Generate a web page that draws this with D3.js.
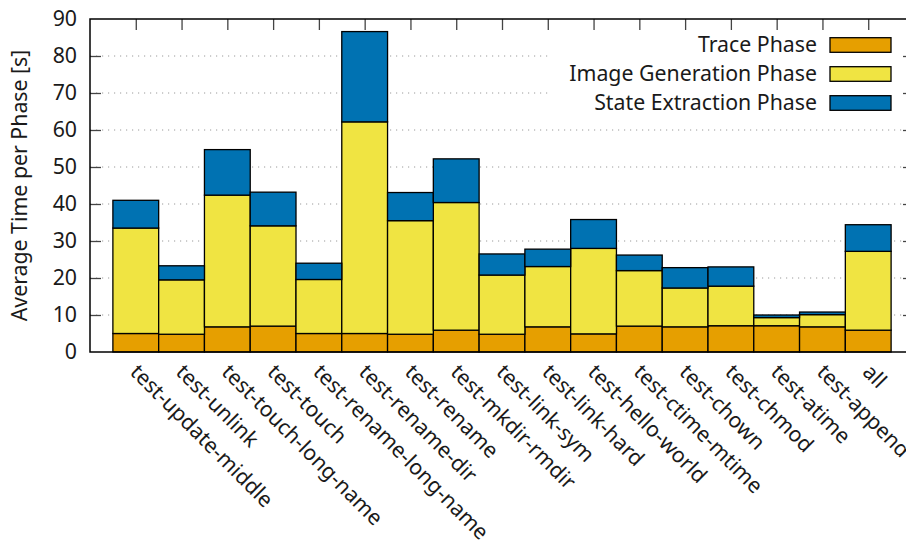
<!DOCTYPE html>
<html>
<head>
<meta charset="utf-8">
<script src="https://cdn.jsdelivr.net/npm/d3@7"></script>
<style>
  body { margin: 0; background: #fff; }
  text { font-family: "Noto Sans", sans-serif; fill: #1a1a1a; }
</style>
</head>
<body>
<div id="chart"></div>
<script>
// test names, left to right
const categories = [
    "test-update-middle", "test-unlink", "test-touch-long-name", "test-touch",
    "test-rename-long-name", "test-rename-dir", "test-rename", "test-mkdir-rmdir",
    "test-link-sym", "test-link-hard", "test-hello-world", "test-ctime-mtime",
    "test-chown", "test-chmod", "test-atime", "test-append", "all"
];
// seconds spent in each phase
const tracePhase = [5.0, 4.8, 6.8, 7.0, 5.0, 5.0, 4.8, 5.9, 4.8, 6.8, 4.9, 7.0, 6.8, 7.1, 7.1, 6.8, 5.9];
const imagePhase = [28.5, 14.7, 35.6, 27.1, 14.6, 57.2, 30.7, 34.5, 16.0, 16.3, 23.1, 15.0, 10.5, 10.7, 2.2, 3.3, 21.3];
const statePhase = [7.5, 3.8, 12.3, 9.1, 4.4, 24.4, 7.6, 11.8, 5.7, 4.7, 7.8, 4.2, 5.5, 5.2, 0.7, 0.7, 7.2];
const yTicks = [0, 10, 20, 30, 40, 50, 60, 70, 80, 90];

const seriesNames = ["Trace Phase", "Image Generation Phase", "State Extraction Phase"];
const seriesColors = ["#e69f00", "#f0e442", "#0072b2"];

const width = 906, height = 540;
const plotLeft = 90, plotRight = 914, plotTop = 19, plotBottom = 352;
const fontSize = 21.3;

const svg = d3.select("#chart").append("svg")
    .attr("width", width)
    .attr("height", height);

const x = d3.scaleLinear().domain([-1, 17]).range([plotLeft, plotRight]);
const y = d3.scaleLinear().domain([0, 90]).range([plotBottom, plotTop]);

// grid lines (dotted)
svg.append("g")
    .selectAll("line")
    .data(yTicks.slice(1, -1))
    .enter()
    .append("line")
    .attr("x1", plotLeft)
    .attr("x2", plotRight)
    .attr("y1", d => y(d))
    .attr("y2", d => y(d))
    .attr("stroke", "#9a9a9a")
    .attr("stroke-width", 1)
    .attr("stroke-dasharray", "1.2,4.8");

// legend background hides the grid behind it
svg.append("rect")
    .attr("x", 552)
    .attr("y", 27)
    .attr("width", plotRight - 552)
    .attr("height", 92)
    .attr("fill", "#fff");

// stacked bars
const table = categories.map((c, i) => ({
    name: i,
    trace: tracePhase[i],
    image: imagePhase[i],
    state: statePhase[i]
}));
const stack = d3.stack().keys(["trace", "image", "state"]);
const layers = stack(table);

svg.append("g")
    .selectAll("g")
    .data(layers)
    .enter()
    .append("g")
    .attr("fill", (d, i) => seriesColors[i])
    .selectAll("rect")
    .data(d => d)
    .enter()
    .append("rect")
    .attr("x", d => x(d.data.name - 0.5))
    .attr("width", d => x(d.data.name + 0.5) - x(d.data.name - 0.5))
    .attr("y", d => y(d[1]))
    .attr("height", d => y(d[0]) - y(d[1]))
    .attr("stroke", "#000")
    .attr("stroke-width", 1.3);

// axes
const leftAxis = svg.append("g")
    .attr("transform", `translate(${plotLeft},0)`)
    .call(d3.axisLeft(y).tickValues(yTicks).tickSize(-11).tickPadding(13));

const rightAxis = svg.append("g")
    .attr("transform", `translate(${plotRight},0)`)
    .call(d3.axisRight(y).tickValues(yTicks).tickSize(-11).tickFormat(""));

const topAxis = svg.append("g")
    .attr("transform", `translate(0,${plotTop})`)
    .call(d3.axisTop(x).tickValues(d3.range(categories.length)).tickSize(-11).tickFormat(""));

const bottomAxis = svg.append("g")
    .attr("transform", `translate(0,${plotBottom})`)
    .call(d3.axisBottom(x).tickValues(d3.range(categories.length)).tickSize(0).tickFormat(i => categories[i]));

[leftAxis, rightAxis, topAxis, bottomAxis].forEach(a => {
    a.select(".domain").remove();
    a.selectAll("line").attr("stroke", "#444").attr("stroke-width", 1.3);
    a.selectAll("text").attr("font-family", "Noto Sans").attr("font-size", fontSize).attr("fill", "#1a1a1a");
});
// the end ticks would only overlap the frame corners
leftAxis.selectAll(".tick").filter(d => d === 0 || d === 90).select("line").remove();
rightAxis.selectAll(".tick").filter(d => d === 0 || d === 90).select("line").remove();

bottomAxis.selectAll("text")
    .attr("x", 0)
    .attr("y", 0)
    .attr("dy", "0.75em")
    .attr("text-anchor", "start")
    .attr("transform", "translate(4,10) rotate(45)");

// frame
svg.append("rect")
    .attr("x", plotLeft)
    .attr("y", plotTop)
    .attr("width", plotRight - plotLeft)
    .attr("height", plotBottom - plotTop)
    .attr("fill", "none")
    .attr("stroke", "#000")
    .attr("stroke-width", 1.5);

// y axis title
svg.append("text")
    .attr("transform", `translate(20,${(plotTop + plotBottom) / 2}) rotate(-90)`)
    .attr("text-anchor", "middle")
    .attr("dy", "0.35em")
    .attr("font-size", fontSize)
    .text("Average Time per Phase [s]");

// legend
const legend = svg.append("g")
    .selectAll("g")
    .data(seriesNames)
    .enter()
    .append("g")
    .attr("transform", (d, i) => `translate(0,${45 + i * 29})`);

legend.append("text")
    .attr("x", 817)
    .attr("dy", "0.35em")
    .attr("text-anchor", "end")
    .attr("font-size", fontSize)
    .text(d => d);

legend.append("rect")
    .attr("x", 830)
    .attr("y", -7.3)
    .attr("width", 61)
    .attr("height", 14.6)
    .attr("fill", (d, i) => seriesColors[i])
    .attr("stroke", "#000")
    .attr("stroke-width", 1.3);
</script>
</body>
</html>
